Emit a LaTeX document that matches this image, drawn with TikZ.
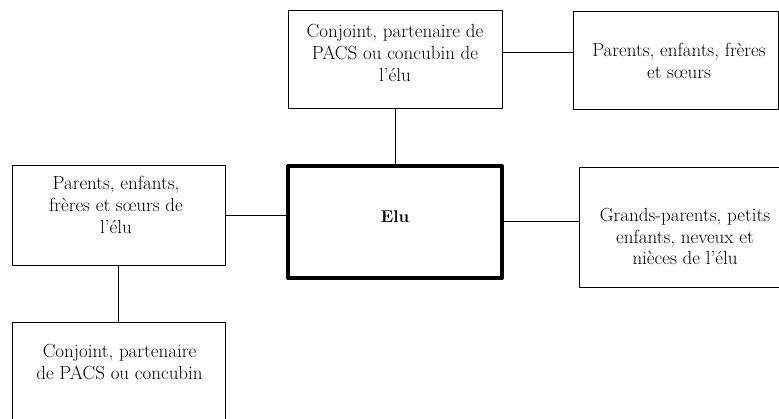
\documentclass[tikz,border=0pt]{standalone}
\usepackage{tikz}
\usetikzlibrary{positioning}
\begin{document}
\begin{tikzpicture}[line cap=round,line join=round,x=1pt,y=-1pt,
	boite/.style={draw,line width=1pt,inner sep=0pt},
	texte/.style={align=center,inner sep=0pt,font=\fontsize{19}{21.7}\selectfont},
	lien/.style={line width=1pt}]
		\clip (0,0) rectangle (779,419);
		% boites
		\node[boite,minimum width=214,minimum height=98] (conjoint) at (395,60) {};
		\node[boite,minimum width=205,minimum height=98] (fratrie) at (675.5,61) {};
		\node[boite,line width=4pt,minimum width=214,minimum height=112] (elu) at (395,222) {};
		\node[boite,minimum width=213,minimum height=100] (parents) at (118.5,216) {};
		\node[boite,minimum width=204,minimum height=120] (grands) at (681,228) {};
		\node[boite,minimum width=213,minimum height=137] (conjointB) at (118.5,391.5) {};
		% textes
		\node[texte] (conjointT) at (395,53) {Conjoint, partenaire de\\PACS ou concubin de\\l’élu};
		\node[texte] (fratrieT) at (679,61) {Parents, enfants, frères\\et sœurs};
		\node[texte,font=\fontsize{17}{21.7}\selectfont\bfseries] (eluT) at (395,217) {Elu};
		\node[texte] (parentsT) at (116,205) {Parents, enfants,\\frères et sœurs de\\l’élu};
		\node[texte] (grandsT) at (685,236.5) {Grands-parents, petits\\enfants, neveux et\\nièces de l’élu};
		\node[texte] (conjointBT) at (119.5,362) {Conjoint, partenaire\\de PACS ou concubin};
		% liens
		\draw[lien] ([yshift=7pt]conjoint.east) -- ([yshift=7pt]conjoint.east -| fratrie.west);
		\draw[lien] (conjoint.south) -- (elu.north);
		\draw[lien] (parents.east) -- (parents.east -| elu.west);
		\draw[lien] (elu.east) -- (elu.east -| grands.west);
		\draw[lien] (parents.south) -- (parents.south |- conjointB.north);
\end{tikzpicture}
\end{document}
